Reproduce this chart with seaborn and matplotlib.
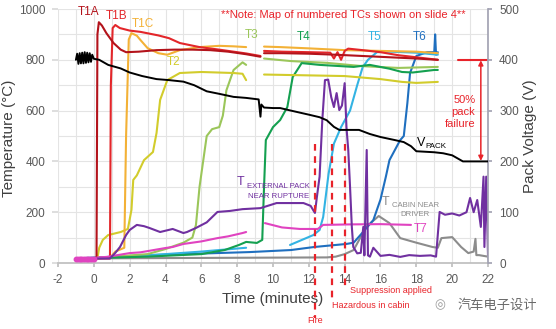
import numpy as np
import matplotlib
matplotlib.use("Agg")
import matplotlib.pyplot as plt
import seaborn as sns

# ---------------- data ----------------
# Pack voltage (V, right axis)
vpack_t = [-1.0, -0.93, -0.86, -0.79, -0.72, -0.65, -0.58, -0.51, -0.44, -0.37, -0.30, -0.23, -0.16, -0.09, 0.0,
           0.3, 0.8, 1.5, 2.0, 2.7, 3.5, 4.2, 5.0, 5.6, 6.3, 7.0, 7.8, 8.5, 9.2, 9.3, 9.35, 9.5, 10.0, 10.4,
           11.0, 12.0, 12.6, 13.0, 13.4, 13.7, 14.8, 15.4, 16.0, 16.8, 17.3, 17.7, 18.0, 19.0, 19.5, 20.0,
           20.6, 21.2, 22.0]
vpack_v = [400, 412, 392, 413, 393, 414, 393, 415, 394, 414, 395, 413, 396, 410, 402,
           400, 390, 383, 375, 368, 362, 360, 357, 350, 338, 333, 327, 325, 322, 288, 312, 306, 305, 305,
           300, 292, 287, 281, 268, 262, 262, 254, 248, 242, 238, 230, 220, 218, 216, 212,
           200, 200, 200]

# Temperatures (deg C, left axis); NaN = data gap
t1a_t = [-1, 0.15, 0.2, 0.28, 0.45, 0.7, 1.1, 1.5, 1.8, 2.5, 3.5, 4.5, 5.5, 6.5, 7.5, 8.5, 9.3, np.nan,
         9.5, 10.5, 12, 13.5, 15, 16.5, 18, 19.2]
t1a_v = [18, 18, 900, 948, 935, 905, 866, 840, 830, 832, 838, 840, 840, 838, 832, 822, 812, np.nan,
         826, 826, 824, 820, 815, 810, 805, 800]

t1b_t = [-1, 0.9, 0.95, 1.05, 1.2, 1.45, 2, 2.6, 3.6, 4.2, 4.8, 5.9, 7, 7.8, 8.5, 9.3, np.nan,
         9.5, 10.5, 12, 13.2, 13.4, 13.6, 13.8, 14.0, 14.2, 15, 16, 17, 18, 19.2]
t1b_v = [18, 18, 700, 925, 937, 925, 915, 910, 896, 885, 866, 850, 840, 832, 825, 815, np.nan,
         835, 832, 830, 828, 805, 830, 800, 835, 844, 838, 830, 818, 810, 800]

t1c_t = [-1, 0.9, 1.2, 1.7, 1.8, 1.95, 2.1, 2.4, 2.6, 3.0, 3.6, 4.1, 4.8, 5.9, 7.0, 7.8, 8.5, np.nan,
         9.5, 10.4, 12, 14, 16, 18, 19.2]
t1c_v = [18, 20, 45, 60, 500, 880, 905, 895, 878, 846, 826, 820, 838, 850, 855, 853, 850, np.nan,
         852, 850, 845, 838, 835, 832, 826]

t2_t = [-1, 0.2, 0.3, 0.5, 0.8, 1.5, 1.9, 2.1, 2.2, 2.4, 2.8, 3.3, 3.5, 3.7, 4.1, 4.8, 6, 7.8, 8.3, 8.5, np.nan,
        9.5, 11, 14, 16, 17.2, 18, 19.2]
t2_v = [18, 18, 60, 91, 110, 122, 134, 209, 327, 345, 405, 437, 512, 642, 720, 748, 752, 748, 745, 720, np.nan,
        742, 740, 736, 724, 713, 709, 713]

t3_t = [-1, 0.2, 3.0, 4.0, 5.0, 5.5, 5.7, 5.9, 6.1, 6.3, 6.6, 7.0, 7.2, 7.4, 7.8, 8.3, 8.5, np.nan,
        9.5, 11, 13, 15, 17, 19.2]
t3_v = [18, 20, 35, 55, 80, 100, 150, 300, 400, 500, 527, 535, 580, 680, 760, 790, 780, np.nan,
        805, 795, 788, 775, 768, 772]

t4_t = [-1, 0.2, 3, 6, 7.3, 8.1, 8.5, 9.1, 9.4, 9.5, 9.6, 10.0, 10.4, 10.8, 11.1, 11.6, 12.6, 14.5,
        15.4, 16.5, 17.2, 17.8, 19.0, 19.2]
t4_v = [18, 20, 25, 35, 51, 71, 83, 79, 91, 300, 484, 535, 563, 614, 732, 787, 780, 772,
        780, 765, 752, 750, 760, 760]

t5_t = [-1, 0.2, 3, 6, 8.5, np.nan, 10.95, 12.25, 12.6, 12.8, 13.1, 13.4, 13.8, 14.3, 14.7, 15.0, 15.3,
        15.8, 16.5, 18, 19.2]
t5_v = [18, 20, 30, 45, 60, np.nan, 71, 110, 130, 181, 350, 470, 535, 600, 700, 770, 800,
        830, 832, 828, 820]

t6_t = [-1, 0.2, 3.1, 8.7, 11, 12.3, 14.1, 14.5, 15.0, 15.6, 16.0, 16.3, 16.5, 17.1, 17.3, 17.5, 17.65,
        18.0, 18.6, 19.0, 19.05, 19.1, 19.2]
t6_v = [18, 22, 31, 43, 51, 63, 75, 80, 120, 169, 250, 340, 405, 484, 500, 630, 748,
        815, 830, 830, 900, 820, 830]

t7_t = [-1, -0.9, -0.8, -0.7, -0.6, -0.5, -0.4, -0.3, -0.2, -0.1, 0, 0.2, 0.73, 2.0, 2.6, 4.0, 4.4, 5.0,
        6.0, 6.9, 7.5, 8.3, 8.5, np.nan, 9.55, 10.5, 11.5, 12.5, 12.8, 14.3, 16, 17.7]
t7_v = [16, 16, 16, 16, 16, 16, 16, 16, 16, 16, 16, 22, 24, 39, 42, 59, 63, 75,
        85, 98, 105, 118, 122, np.nan, 157, 140, 134, 134, 150, 152, 153, 150]

text_t = [-1, 0.9, 1.2, 1.46, 1.8, 2.0, 2.4, 2.8, 3.1, 3.7, 4.4, 5.0, 5.2, 5.7, 6.3, 6.9, 7.6, 8.3, 9.3,
          10.2, 11.0, 11.7, 12.1, 12.34, 12.45, 12.6, 12.75, 12.9, 13.08, 13.25, 13.4, 13.55, 13.7,
          13.85, 14.0, 14.1, 14.2, 14.3, 14.4, 14.48, 14.7, 14.9, 15.04, 15.1, 15.23, 15.3, 15.41,
          15.6, 16, 16.5, 17.1, 17.6, 18.2, 18.8, 19.1, 19.3, 19.6, 20.0, 20.4, 20.8, 21.0, 21.2,
          21.4, 21.6, 21.75, 21.8, 21.9, 22.0]
text_v = [16, 18, 40, 63, 110, 130, 150, 145, 138, 122, 134, 118, 122, 138, 160, 201, 205, 212, 216,
          236, 236, 236, 225, 197, 260, 340, 560, 720, 722, 653, 614, 669, 602,
          620, 708, 535, 445, 300, 142, 63, 38, 40, 142, 30, 445, 30, 25,
          60, 28, 32, 24, 31, 28, 30, 25, 201, 190, 195, 187, 200, 256, 200,
          248, 142, 340, 63, 340, 30]

tcab_t = [-1, 13.0, 13.5, 14.0, 14.5, 15.2, 15.9, 16.5, 17.1, 18.0, 18.9, 19.2, 19.4, 20.0, 20.5, 20.9,
          21.2, 21.3, 21.35, 21.5, 22.0, 22.05]
tcab_v = [18, 22, 25, 35, 51, 142, 185, 157, 98, 80, 63, 60, 98, 102, 63, 39,
          45, 95, 31, 31, 25, 12]

events_t = [12.34, 13.27, 14.0]
events_lbl = ["Fire", "Hazardous in cabin", "Suppression applied"]
x_ticks = [-2, 0, 2, 4, 6, 8, 10, 12, 14, 16, 18, 20, 22]
temp_ticks = [0, 200, 400, 600, 800, 1000]
volt_ticks = [0, 100, 200, 300, 400, 500]

# ---------------- styling ----------------
sns.set_theme(style="white")
plt.rcParams["font.family"] = ["Liberation Sans", "Noto Sans CJK SC", "DejaVu Sans"]
plt.rcParams["axes.unicode_minus"] = False

RED = "#e8232a"
TICK_C = "#595959"

fig = plt.figure(figsize=(5.56, 3.29), dpi=100)
ax = fig.add_axes([58 / 556, 1 - 263 / 329, 430 / 556, 254 / 329])
ax2 = ax.twinx()


def segs(t, v):
    t = np.asarray(t, float)
    v = np.asarray(v, float)
    cut = np.where(np.isnan(v))[0]
    bounds = [-1] + list(cut) + [len(v)]
    for a, b in zip(bounds[:-1], bounds[1:]):
        if b - a > 2:
            yield t[a + 1:b], v[a + 1:b]


def draw(axis, t, v, color, lw=1.5, zorder=2):
    for ts, vs in segs(t, v):
        sns.lineplot(x=ts, y=vs, ax=axis, color=color, lw=lw, estimator=None,
                     sort=False, legend=False, zorder=zorder)


# grid
ax.set_xlim(-2, 22)
ax.set_ylim(0, 1000)
ax.set_xticks(x_ticks)
ax.set_xticks(np.arange(-2, 23, 1), minor=True)
ax.set_yticks(temp_ticks)
ax.set_yticks(np.arange(0, 1001, 100), minor=True)
ax.grid(True, which="both", color="#e4e4e4", lw=0.8)
ax.set_axisbelow(True)

draw(ax, tcab_t, tcab_v, "#8c8c8c")
draw(ax, t6_t, t6_v, "#1f6fbf")
draw(ax, t5_t, t5_v, "#33b3e3")
draw(ax, t3_t, t3_v, "#9bc65a")
draw(ax, t4_t, t4_v, "#14a050")
draw(ax, t2_t, t2_v, "#d2cc2c")
draw(ax, t1c_t, t1c_v, "#f3b136")
draw(ax, t1b_t, t1b_v, "#e3262a")
draw(ax, t1a_t, t1a_v, "#b3131b")
draw(ax, t7_t, t7_v, "#e043c0")
draw(ax, text_t, text_v, "#7030a0")
ax.plot(t7_t[:11], t7_v[:11], ls="none", marker="o", ms=3.2, color="#e043c0", zorder=3)

# event dashed lines
ends = [-217, -154, -94]
for et, lbl, ye in zip(events_t, events_lbl, ends):
    ax.plot([et, et], [470, ye], ls=(0, (3, 2.5)), color=RED, lw=1.6, clip_on=False, zorder=4)
ax.text(events_t[0], -228, events_lbl[0], color=RED, fontsize=6.5, ha="center", va="center")
ax.text(events_t[1] + 0.05, -169, events_lbl[1], color=RED, fontsize=6.5, ha="left", va="center")
ax.text(events_t[2] + 0.3, -110, events_lbl[2], color=RED, fontsize=6.5, ha="left", va="center")

# series labels
lab = dict(fontsize=8.5, ha="center", va="center")
ax.text(-0.27, 988, "T1A", color="#b3131b", **lab)
ax.text(1.29, 972, "T1B", color="#e3262a", **lab)
ax.text(2.74, 941, "T1C", color="#f3b136", **lab)
ax.text(4.47, 791, "T2", color="#d2cc2c", **lab)
ax.text(8.83, 898, "T3", color="#9bc65a", **lab)
ax.text(11.73, 890, "T4", color="#14a050", **lab)
ax.text(15.69, 890, "T5", color="#33b3e3", **lab)
ax.text(18.2, 890, "T6", color="#1f6fbf", **lab)
ax.text(18.26, 134, "T7", color="#e043c0", **lab)
ax.text(7.95, 319, "T", color="#7030a0", fontsize=9, ha="left", va="center")
ax.text(10.3, 282, "EXTERNAL PACK\nNEAR RUPTURE", color="#7030a0", fontsize=5.6,
        ha="center", va="center", linespacing=1.5)
ax.text(16.05, 240, "T", color="#8c8c8c", fontsize=9, ha="left", va="center")
ax.text(17.95, 208, "CABIN NEAR\nDRIVER", color="#8c8c8c", fontsize=5.6,
        ha="center", va="center", linespacing=1.5)
ax.text(13.9, 976, "**Note: Map of numbered TCs shown on slide 4**", color=RED,
        fontsize=8, ha="center", va="center")

# voltage
ax2.set_ylim(0, 500)
ax2.set_yticks(volt_ticks)
draw(ax2, vpack_t, vpack_v, "black", lw=1.4, zorder=3)
ax2.plot([20.3, 22], [400, 400], color=RED, lw=1.5)
ax2.annotate("", xy=(21.6, 201), xytext=(21.6, 399),
             arrowprops=dict(arrowstyle="<|-|>", color=RED, lw=1.1, mutation_scale=7,
                             shrinkA=0, shrinkB=0))
ax2.text(21.3, 298, "50%\npack\nfailure", color=RED, fontsize=8, ha="right", va="center",
         linespacing=1.25)
ax2.text(18.03, 237, "V", color="black", fontsize=9, ha="left", va="center")
ax2.text(18.5, 229, "PACK", color="black", fontsize=5.8, ha="left", va="center")

# axes cosmetics
for a in (ax, ax2):
    for s in ("top", "left"):
        a.spines[s].set_visible(False)
    a.spines["bottom"].set_color("#bfbfbf")
    a.spines["right"].set_visible(False)
ax2.spines["right"].set_visible(True)
ax2.spines["right"].set_color("#a3a3b3")
ax2.spines["bottom"].set_visible(False)

ax.tick_params(axis="x", which="major", length=3, color="#bfbfbf", labelsize=8.5,
               labelcolor=TICK_C, pad=5, bottom=True)
ax.tick_params(axis="x", which="minor", length=0)
ax.tick_params(axis="y", which="major", length=4, color="#d9d9d9", labelsize=8.5,
               labelcolor=TICK_C, pad=5, left=True)
ax.tick_params(axis="y", which="minor", length=0)
ax2.tick_params(axis="y", length=3, color="#a3a3b3", labelsize=8.5, labelcolor=TICK_C,
                pad=5, right=True)

ax.set_xlabel("Time (minutes)", fontsize=11, color="#404040", labelpad=4)
ax.set_ylabel("Temperature (°C)", fontsize=11, color="#404040")
ax.yaxis.set_label_coords(-0.098, 0.49)
ax2.set_ylabel("Pack Voltage (V)", fontsize=11, color="#404040")
ax2.yaxis.set_label_coords(1.082, 0.5)

# watermark
fig.text(458 / 556, 1 - 305 / 329, "汽车电子设计", fontsize=9.5, color="#6a6a6a",
         ha="left", va="center", family=["Noto Sans CJK SC"])
fig.text(440 / 556, 1 - 305 / 329, "◎", fontsize=9, color="#9a9a9a", ha="center",
         va="center", family=["DejaVu Sans"])

fig.savefig("out.png", dpi=100)
